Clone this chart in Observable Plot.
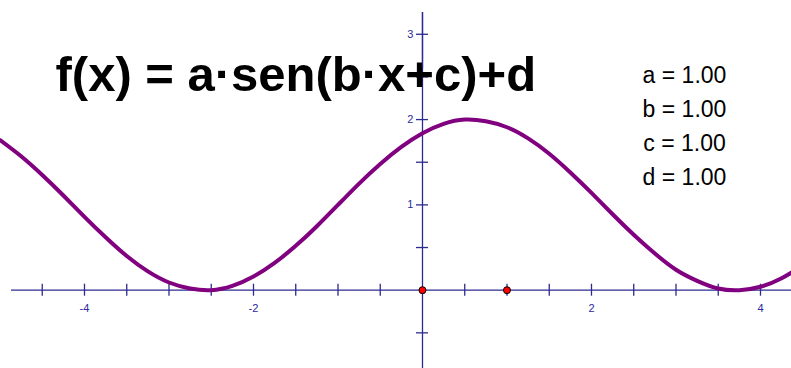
<!DOCTYPE html>
<html>
<head>
<meta charset="utf-8">
<script src="https://cdn.jsdelivr.net/npm/d3@7"></script>
<script src="https://cdn.jsdelivr.net/npm/@observablehq/plot@0.6"></script>
<style>
  html, body { margin: 0; padding: 0; background: #ffffff; }
  #chart svg { display: block; }
</style>
</head>
<body>
<div id="chart"></div>
<script>
// Curve f(x) (x step 0.25)
const curveX = [-5, -4.75, -4.5, -4.25, -4, -3.75, -3.5, -3.25, -3, -2.75, -2.5, -2.25, -2, -1.75, -1.5, -1.25,
  -1, -0.75, -0.5, -0.25, 0, 0.25, 0.5, 0.75, 1, 1.25, 1.5, 1.75, 2, 2.25, 2.5, 2.75, 3, 3.25, 3.5, 3.75, 4, 4.25, 4.5];
const curveY = [1.76, 1.57, 1.35, 1.11, 0.86, 0.62, 0.40, 0.22, 0.09, 0.02, 0.00, 0.05, 0.16, 0.32, 0.52, 0.75,
  1.00, 1.25, 1.48, 1.68, 1.84, 1.95, 2.00, 1.98, 1.91, 1.78, 1.60, 1.38, 1.14, 0.89, 0.65, 0.43, 0.24, 0.11, 0.02, 0.00, 0.04, 0.14, 0.29];

// Axis ticks and labels
const xTicks = [-4.5, -4, -3.5, -3, -2.5, -2, -1.5, -1, -0.5, 0.5, 1, 1.5, 2, 2.5, 3, 3.5, 4];
const xTickLabels = [-4, -2, 2, 4];
const yTicks = [-0.5, 0.5, 1, 1.5, 2, 2.5, 3];
const yTickLabels = [1, 2, 3];

// Red points on the x axis
const pointsX = [0, 1];
const pointsY = [0, 0];

// Title and parameters
const titleText = "f(x) = a·sen(b·x+c)+d";
const paramNames = ["a", "b", "c", "d"];
const paramValues = [1.00, 1.00, 1.00, 1.00];

const curve = curveX.map((x, i) => ({x, y: curveY[i]}));
const points = pointsX.map((x, i) => ({x, y: pointsY[i]}));
const paramText = paramNames.map((n, i) => `${n} = ${paramValues[i].toFixed(2)}`).join("\n");

const axisColor = "#2b2b8f";
const labelColor = "#2a2aa0";
const font = "Liberation Sans, Arial, sans-serif";

const chart = Plot.plot({
  width: 791,
  height: 368,
  margin: 0,
  style: {background: "#ffffff", overflow: "visible"},
  x: {domain: [-4.994, 4.367], axis: null},
  y: {domain: [-0.918, 3.396], axis: null},
  marks: [
    // axes
    Plot.ruleY([0], {stroke: axisColor, strokeWidth: 1.3, insetLeft: 11}),
    Plot.ruleX([0], {stroke: axisColor, strokeWidth: 1.3, insetTop: 12}),
    Plot.ruleX(xTicks, {y1: 0, y2: 0, insetTop: -6, insetBottom: -6, stroke: axisColor, strokeWidth: 1.3}),
    Plot.ruleY(yTicks, {x1: 0, x2: 0, insetLeft: -6, insetRight: -6, stroke: axisColor, strokeWidth: 1.3}),
    Plot.text(xTickLabels, {x: d => d, y: 0, dy: 18, text: d => String(d),
      fill: labelColor, fontSize: 11, fontFamily: font, textAnchor: "middle"}),
    Plot.text(yTickLabels, {x: 0, y: d => d, dx: -9, text: d => String(d),
      fill: labelColor, fontSize: 11, fontFamily: font, textAnchor: "end"}),
    // parameters
    Plot.text([paramText], {frameAnchor: "top-left", dx: 684, dy: 57.8, lineAnchor: "top", textAnchor: "middle",
      text: d => d, lineHeight: 1.49, fill: "#000000", fontSize: 23, fontFamily: font}),
    // curve
    Plot.line(curve, {x: "x", y: "y", curve: "natural", stroke: "#800080", strokeWidth: 4, clip: true}),
    // title (drawn over the curve region, under the axis crossing as in the reference)
    Plot.text([titleText], {frameAnchor: "top-left", dx: 55, dy: 90, lineAnchor: "bottom", textAnchor: "start",
      text: d => d, fill: "#000000", fontSize: 49, fontWeight: "bold", fontFamily: font}),
    Plot.ruleX([0], {stroke: axisColor, strokeWidth: 1.3, insetTop: 12, insetBottom: 300}),
    // points
    Plot.dot(points, {x: "x", y: "y", r: 3.5, fill: "#ff0000", stroke: "#000000", strokeWidth: 1})
  ]
});
document.getElementById("chart").appendChild(chart);
</script>
</body>
</html>
